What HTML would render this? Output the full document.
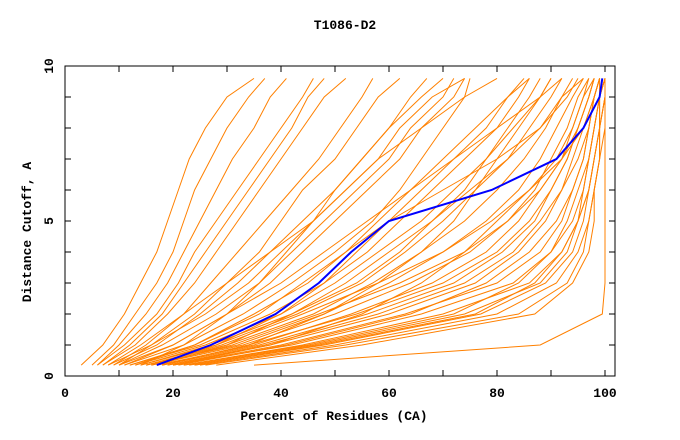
<!DOCTYPE html>
<html><head><meta charset="utf-8"><style>
body{margin:0;background:#fff}
svg{display:block}
text{font-family:"Liberation Mono","DejaVu Sans Mono",monospace;font-size:13px;font-weight:bold;fill:#000}
</style></head><body>
<svg id="chart" width="680" height="440"></svg>
<script>
const yLevels=[0.35,1,2,3,4,5,6,7,8,9,9.6];
const xTicks=[0,20,40,60,80,100];
const yTicks=[0,5,10];
const modelCurves=[
[3,7,11,14,17,19,21,23,26,30,35],
[5,9,13,17,20,22,24,27,30,34,37],
[6,10,15,19,22,25,28,31,35,38,41],
[6,11,17,21,24,28,32,36,40,44,46],
[7,13,19,24,28,32,36,40,44,48,52],
[8,14,22,27,32,37,42,47,51,55,57],
[8,16,24,30,36,40,44,50,54,58,62],
[9,17,25,32,38,44,50,55,60,64,67],
[10,18,28,36,42,48,54,60,64,70,72],
[10,20,30,38,44,50,56,62,66,72,74],
[11,22,33,42,50,57,62,66,70,74,75],
[12,24,35,45,52,58,64,70,76,82,86],
[12,25,38,48,56,62,68,74,80,84,86],
[13,26,40,50,58,66,72,78,83,88,90],
[14,28,43,55,63,70,76,82,86,90,92],
[15,30,46,57,66,74,80,85,89,92,94],
[15,32,48,60,70,78,84,88,91,94,96],
[16,33,50,64,75,82,87,90,93,95,97],
[17,35,53,68,78,84,88,92,94,96,98],
[18,36,56,72,81,87,90,93,95,97,98],
[19,38,60,76,84,89,92,94,96,98,99],
[20,40,63,80,88,92,94,96,97,98,99],
[20,42,66,83,90,93,95,97,98,99,99],
[22,44,70,86,92,95,96,97,98,99,100],
[23,46,74,88,93,95,97,98,99,99,100],
[24,48,77,89,94,96,97,98,99,100,100],
[25,50,80,91,95,97,98,99,99,100,100],
[26,52,84,93,96,97,98,99,99,100,100],
[28,55,87,94,97,98,98,99,100,100,100],
[35,88,99.5,100,100,100,100,100,100,100,100],
[14,22,30,36,41,46,50,55,60,66,70],
[9,15,22,30,38,46,52,58,62,68,74],
[16,28,40,48,54,60,66,72,78,82,85],
[11,20,30,40,48,56,64,72,80,88,92],
[18,34,48,58,66,72,76,80,84,88,90],
[7,12,18,22,26,30,34,38,42,45,48],
[13,24,36,44,52,60,70,80,88,92,96],
[20,38,55,66,74,80,86,92,96,98,99],
[17,30,42,54,62,68,74,78,82,86,88],
[10,16,26,34,40,46,52,58,66,74,80],
[18,34,54,70,80,86,90,93,95,97,98],
[21,41,64,78,86,91,94,96,97,98,99],
[16,31,47,62,74,82,88,92,95,97,98],
[22,45,72,84,90,94,96,97,98,99,100],
[19,37,58,74,83,88,92,95,97,98,99],
[15,29,44,58,70,79,86,91,94,96,97],
[24,47,76,87,92,95,97,98,99,99,100],
[14,27,42,52,60,68,75,82,88,93,95]
];
const bestCurve=[17,27,39,47,53,60,79,91,96,99,99.5];

const svg=document.getElementById('chart');
const NS='http://www.w3.org/2000/svg';
const L=65,R=615,T=66,B=376,X100=605;
const xs=v=>L+(X100-L)*v/100;
const ys=v=>B-(B-T)*v/10;
function mk(tag,attrs,parent){const e=document.createElementNS(NS,tag);for(const k in attrs)e.setAttribute(k,attrs[k]);(parent||svg).appendChild(e);return e;}

const title=mk('text',{x:345,y:29,'text-anchor':'middle'});title.textContent='T1086-D2';



const lines=mk('g',{});


modelCurves.forEach((c,i)=>{
  const d=c.map((x,j)=>(j?'L':'M')+xs(x).toFixed(1)+' '+ys(yLevels[j]).toFixed(1)).join(' ');
  const p=mk('path',{d:d,fill:'none',stroke:'#ff8000','stroke-width':1},lines);
  
  
});
const bd=bestCurve.map((x,j)=>(j?'L':'M')+xs(x).toFixed(1)+' '+ys(yLevels[j]).toFixed(1)).join(' ');
const bp=mk('path',{d:bd,fill:'none',stroke:'#0000ff','stroke-width':2});



const frame=mk('rect',{x:L,y:T,width:R-L,height:B-T,fill:'none',stroke:'#000','stroke-width':1});



const ticks=mk('g',{stroke:'#000','stroke-width':1});


for(let v=0;v<=100;v+=10){const x=xs(v);mk('line',{x1:x,y1:B,x2:x,y2:B-6},ticks);mk('line',{x1:x,y1:T,x2:x,y2:T+6},ticks);}
for(let v=0;v<=10;v++){const y=ys(v);mk('line',{x1:L,y1:y,x2:L+6,y2:y},ticks);mk('line',{x1:R,y1:y,x2:R-6,y2:y},ticks);}

xTicks.forEach(v=>{const t=mk('text',{x:xs(v),y:397,'text-anchor':'middle'});t.textContent=v;
  
  });
yTicks.forEach(v=>{const t=mk('text',{x:0,y:0,'text-anchor':'middle',transform:`translate(53,${ys(v)}) rotate(-90)`});t.textContent=v;
  
  });

const xt=mk('text',{x:334,y:420,'text-anchor':'middle'});xt.textContent='Percent of Residues (CA)';


const yt=mk('text',{x:0,y:0,'text-anchor':'middle',transform:'translate(31,232) rotate(-90)'});yt.textContent='Distance Cutoff, A';


</script>
</body></html>
